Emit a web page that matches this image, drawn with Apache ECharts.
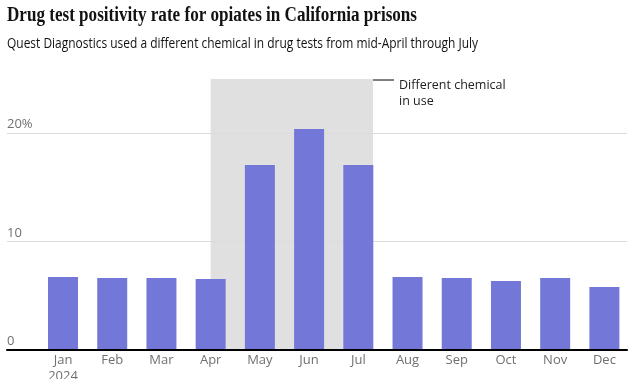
<!DOCTYPE html>
<html>
<head>
<meta charset="utf-8">
<script src="https://cdn.jsdelivr.net/npm/echarts@6/dist/echarts.min.js"></script>
<style>
html,body{margin:0;padding:0;background:#fff;}
#chart{width:632px;height:379px;}
</style>
</head>
<body>
<div id="chart"></div>
<script>
const titleText = 'Drug test positivity rate for opiates in California prisons';
const subtitleText = 'Quest Diagnostics used a different chemical in drug tests from mid-April through July';
const months = ['Jan\n2024','Feb','Mar','Apr','May','Jun','Jul','Aug','Sep','Oct','Nov','Dec'];
const positivity = [6.73, 6.64, 6.64, 6.55, 17.07, 20.39, 17.07, 6.73, 6.64, 6.37, 6.64, 5.81];
const shadeRange = [3, 6.3]; // mid-April through end of July (category index units)
const annotationLines = ['Different chemical', 'in use'];
const yMax = 25;
const yInterval = 10;

const sans = '"Open Sans", "Noto Sans", sans-serif';
const titleFont = 'bold 20px "Liberation Serif", serif';
const subFont = '15px "Open Sans", "Noto Sans", sans-serif';

function fitScale(text, font, target) {
  const ctx = document.createElement('canvas').getContext('2d');
  ctx.font = font;
  return target / ctx.measureText(text).width;
}

const chart = echarts.init(document.getElementById('chart'));
chart.setOption({
  animation: false,
  backgroundColor: '#fff',
  grid: [
    {left: 38.4, right: 3, top: 79, bottom: 29, outerBoundsMode: 'none', containLabel: false},
    {left: 7, right: 5, top: 79, bottom: 29, outerBoundsMode: 'none', containLabel: false}
  ],
  xAxis: [
    {type: 'category', gridIndex: 0, data: months, boundaryGap: true,
     axisLine: {show: false}, axisTick: {show: false},
     axisLabel: {color: '#707070', fontFamily: sans, fontSize: 13, margin: 2, lineHeight: 16}},
    {type: 'value', gridIndex: 0, min: -0.5, max: 11.5, show: false},
    {type: 'value', gridIndex: 1, min: 0, max: 1, z: 5,
     axisLine: {show: true, lineStyle: {color: '#000', width: 2}},
     axisTick: {show: false}, axisLabel: {show: false}, splitLine: {show: false}}
  ],
  yAxis: [
    {type: 'value', gridIndex: 0, min: 0, max: yMax, show: false},
    {type: 'value', gridIndex: 1, min: 0, max: yMax, interval: yInterval, z: 2,
     axisLine: {show: false}, axisTick: {show: false},
     splitLine: {show: true, showMinLine: false, showMaxLine: false, lineStyle: {color: '#dcdcdc', width: 1}},
     axisLabel: {inside: true, margin: 0, verticalAlign: 'bottom', padding: [0, 0, 2, 0],
       color: '#707070', fontFamily: sans, fontSize: 13,
       showMaxLabel: false,
       formatter: v => v === 20 ? '20%' : (v === yMax ? '' : String(v))}}
  ],
  series: [
    {type: 'line', xAxisIndex: 1, yAxisIndex: 0, data: [], z: 1, silent: true,
     markArea: {silent: true, itemStyle: {color: '#e0e0e0'},
       data: [[{xAxis: shadeRange[0]}, {xAxis: shadeRange[1]}]]}},
    {type: 'bar', xAxisIndex: 0, yAxisIndex: 0, data: positivity, barWidth: 30, z: 3,
     itemStyle: {color: '#7378d8'}}
  ],
  graphic: [
    {type: 'text', x: 7, y: 6, scaleX: fitScale(titleText, titleFont, 410),
     style: {text: titleText, font: titleFont, fill: '#121212'}},
    {type: 'text', x: 7, y: 36, scaleX: fitScale(subtitleText, subFont, 471),
     style: {text: subtitleText, font: subFont, fill: '#121212'}},
    {type: 'line', shape: {x1: 371, y1: 80, x2: 394, y2: 80}, style: {stroke: '#000', lineWidth: 1}},
    {type: 'text', x: 399, y: 77,
     style: {text: annotationLines.join('\n'), font: '12.5px ' + sans, fill: '#222', lineHeight: 16.5}}
  ]
});
</script>
</body>
</html>
